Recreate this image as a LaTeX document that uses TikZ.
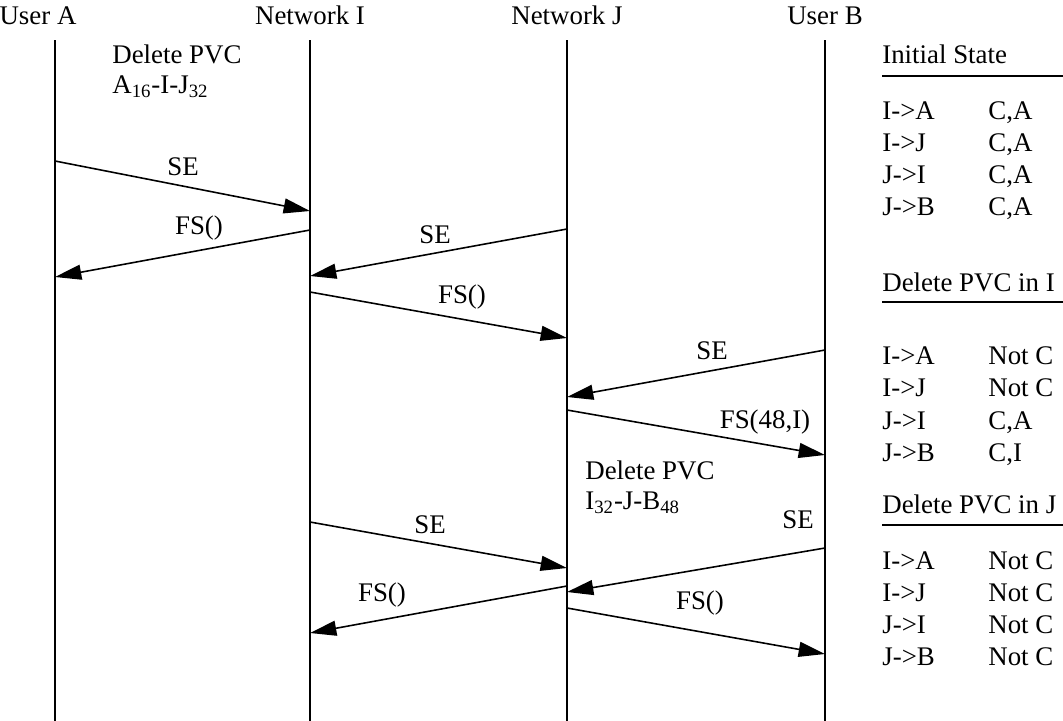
\documentclass[tikz,border=0pt]{standalone}
\usepackage{fontspec}
\setmainfont{Liberation Serif}
\usetikzlibrary{arrows.meta}
\usetikzlibrary{positioning}

\begin{document}
\begin{tikzpicture}[
	x=0.02cm, y=-0.02cm,
	every node/.style = {font=\fontsize{15.3}{18}\selectfont, inner sep=0pt},
	p/.style    = {anchor=base},
	life/.style = {line width=0.6pt},
	msg/.style  = {-{Triangle[length=15pt, width=8.5pt]}, line width=0.9pt},
	lab/.style  = {anchor=base},
	note/.style = {align=left, anchor=north west, font=\fontsize{15.3}{17.5}\selectfont},
	hd/.style   = {anchor=base west},
	cell/.style = {anchor=base west},
	rule/.style = {line width=1.3pt}
	]

	\useasboundingbox (0,0) rectangle (1063,721);

	% === === Parties === ===
	\node[p]	(ua)	at	(38, 24)	{User A};
	\node[p]	(ni)	at	(310, 24)	{Network I};
	\node[p]	(nj)	at	(567, 24)	{Network J};
	\node[p]	(ub)	at	(825, 24)	{User B};

	\coordinate	(uaTop)	at	(55, 40);
	\coordinate	(niTop)	at	(310, 40);
	\coordinate	(njTop)	at	(567, 40);
	\coordinate	(ubTop)	at	(825, 40);
	\coordinate	(uaEnd)	at	(55, 721);
	\coordinate	(niEnd)	at	(310, 721);
	\coordinate	(njEnd)	at	(567, 721);
	\coordinate	(ubEnd)	at	(825, 721);

	\draw[life]	(uaTop)	--	(uaEnd);
	\draw[life]	(niTop)	--	(niEnd);
	\draw[life]	(njTop)	--	(njEnd);
	\draw[life]	(ubTop)	--	(ubEnd);

	% === === Notes === ===
	\node[note]	(delA)	at	(112, 44)	{Delete PVC\\A\textsubscript{16}-I-J\textsubscript{32}};
	\node[note]	(delJ)	at	(585, 460)	{Delete PVC\\I\textsubscript{32}-J-B\textsubscript{48}};

	% === === Message ends === ===
	\coordinate	(m1a)	at	(55, 161);
	\coordinate	(m1b)	at	(310, 211);
	\coordinate	(m2a)	at	(310, 230);
	\coordinate	(m2b)	at	(55, 277);
	\coordinate	(m3a)	at	(567, 229);
	\coordinate	(m3b)	at	(310, 276);
	\coordinate	(m4a)	at	(310, 292);
	\coordinate	(m4b)	at	(567, 338);
	\coordinate	(m5a)	at	(825, 350);
	\coordinate	(m5b)	at	(567, 397);
	\coordinate	(m6a)	at	(567, 410);
	\coordinate	(m6b)	at	(825, 455);
	\coordinate	(m7a)	at	(310, 522);
	\coordinate	(m7b)	at	(567, 568);
	\coordinate	(m8a)	at	(825, 548);
	\coordinate	(m8b)	at	(567, 592);
	\coordinate	(m9a)	at	(567, 586);
	\coordinate	(m9b)	at	(310, 633);
	\coordinate	(m10a)	at	(567, 608);
	\coordinate	(m10b)	at	(825, 654);

	% === === Messages === ===
	\draw[msg]	(m1a)	--	(m1b);
	\draw[msg]	(m2a)	--	(m2b);
	\draw[msg]	(m3a)	--	(m3b);
	\draw[msg]	(m4a)	--	(m4b);
	\draw[msg]	(m5a)	--	(m5b);
	\draw[msg]	(m6a)	--	(m6b);
	\draw[msg]	(m7a)	--	(m7b);
	\draw[msg]	(m8a)	--	(m8b);
	\draw[msg]	(m9a)	--	(m9b);
	\draw[msg]	(m10a)	--	(m10b);

	\node[lab]	(l1)	at	(183, 175)	{SE};
	\node[lab]	(l2)	at	(199, 234)	{FS()};
	\node[lab]	(l3)	at	(435, 243)	{SE};
	\node[lab]	(l4)	at	(462, 303)	{FS()};
	\node[lab]	(l5)	at	(712, 359)	{SE};
	\node[lab]	(l6)	at	(765, 428)	{FS(48,I)};
	\node[lab]	(l7)	at	(430, 533)	{SE};
	\node[lab]	(l8)	at	(798, 528)	{SE};
	\node[lab]	(l9)	at	(382, 601)	{FS()};
	\node[lab]	(l10)	at	(700, 609)	{FS()};

	% === === State table === ===
	\node[hd]	(h1)	at	(882, 63)	{Initial State};
	\draw[rule]	(882, 76)	--	(1063, 76);
	\node[cell]	(r1a)	at	(882, 119)	{I->A};	\node[cell]	(r1b)	at	(988, 119)	{C,A};
	\node[cell]	(r2a)	at	(882, 151)	{I->J};	\node[cell]	(r2b)	at	(988, 151)	{C,A};
	\node[cell]	(r3a)	at	(882, 183)	{J->I};	\node[cell]	(r3b)	at	(988, 183)	{C,A};
	\node[cell]	(r4a)	at	(882, 215)	{J->B};	\node[cell]	(r4b)	at	(988, 215)	{C,A};

	\node[hd]	(h2)	at	(882, 291)	{Delete PVC in I};
	\draw[rule]	(882, 302)	--	(1063, 302);
	\node[cell]	(s1a)	at	(882, 364)	{I->A};	\node[cell]	(s1b)	at	(988, 364)	{Not C};
	\node[cell]	(s2a)	at	(882, 396)	{I->J};	\node[cell]	(s2b)	at	(988, 396)	{Not C};
	\node[cell]	(s3a)	at	(882, 429)	{J->I};	\node[cell]	(s3b)	at	(988, 429)	{C,A};
	\node[cell]	(s4a)	at	(882, 461)	{J->B};	\node[cell]	(s4b)	at	(988, 461)	{C,I};

	\node[hd]	(h3)	at	(882, 513)	{Delete PVC in J};
	\draw[rule]	(882, 525)	--	(1063, 525);
	\node[cell]	(t1a)	at	(882, 569)	{I->A};	\node[cell]	(t1b)	at	(988, 569)	{Not C};
	\node[cell]	(t2a)	at	(882, 601)	{I->J};	\node[cell]	(t2b)	at	(988, 601)	{Not C};
	\node[cell]	(t3a)	at	(882, 633)	{J->I};	\node[cell]	(t3b)	at	(988, 633)	{Not C};
	\node[cell]	(t4a)	at	(882, 665)	{J->B};	\node[cell]	(t4b)	at	(988, 665)	{Not C};

\end{tikzpicture}
\end{document}
